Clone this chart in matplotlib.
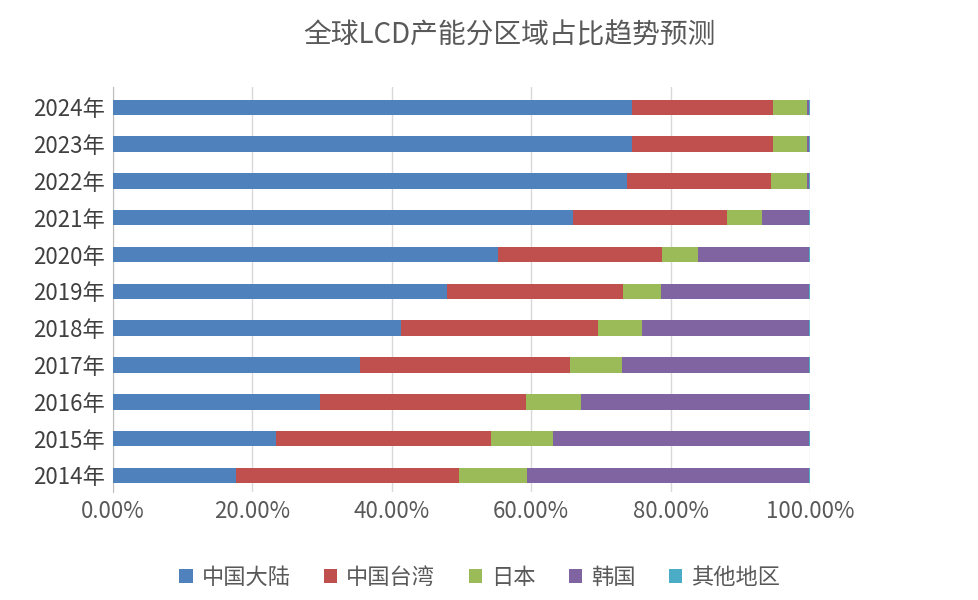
import matplotlib
matplotlib.use("Agg")
import matplotlib.pyplot as plt
import numpy as np

plt.rcParams['font.family'] = ['Noto Sans CJK SC', 'DejaVu Sans']

years = ["2014年", "2015年", "2016年", "2017年", "2018年", "2019年",
         "2020年", "2021年", "2022年", "2023年", "2024年"]
series_names = ["中国大陆", "中国台湾", "日本", "韩国", "其他地区"]
mainland = [17.6, 23.4, 29.7, 35.4, 41.3, 47.9, 55.2, 66.0, 73.7, 74.5, 74.5]
taiwan = [32.0, 30.8, 29.6, 30.2, 28.3, 25.3, 23.6, 22.1, 20.7, 20.2, 20.2]
japan = [9.8, 8.9, 7.8, 7.4, 6.3, 5.4, 5.1, 5.0, 5.2, 4.9, 4.9]
korea = [40.5, 36.8, 32.8, 26.9, 24.0, 21.3, 16.0, 6.8, 0.3, 0.3, 0.3]
other = [0.1, 0.1, 0.1, 0.1, 0.1, 0.1, 0.1, 0.1, 0.1, 0.1, 0.1]
colors = ["#4F81BD", "#C0504D", "#9BBB59", "#8064A2", "#4BACC6"]

fig = plt.figure(figsize=(9.79, 6.0), dpi=100)
ax = fig.add_axes([113/979, 1-492/600, 697/979, 405/600])

y = np.arange(len(years))
left = np.zeros(len(years))
for name, vals, c in zip(series_names, [mainland, taiwan, japan, korea, other], colors):
    ax.barh(y, vals, left=left, height=0.42, color=c, label=name, zorder=3)
    left += np.array(vals)

ax.set_xlim(0, 100)
ax.set_ylim(-0.45, len(years) - 0.45)
ax.set_xticks(np.arange(0, 101, 20))
ax.set_xticklabels([f"{v:.2f}%" for v in np.arange(0, 101, 20)], fontsize=16, color="#595959")
ax.set_yticks(y)
ax.set_yticklabels(years, fontsize=16, color="#404040")
ax.grid(axis="x", color="#D9D9D9", linewidth=1, zorder=0)
for s in ["top", "right", "bottom"]:
    ax.spines[s].set_visible(False)
ax.spines["left"].set_color("#BFBFBF")
ax.tick_params(length=0, pad=6)

fig.text(0.52, 1-35/600, "全球LCD产能分区域占比趋势预测", ha="center", va="center",
         fontsize=20, color="#595959")
fig.legend(loc="center", bbox_to_anchor=(0.49, 1-577/600), ncol=5, frameon=False,
           fontsize=16, handlelength=0.6, handleheight=0.6, columnspacing=1.5,
           handletextpad=0.4, labelcolor="#595959")

fig.savefig("out.png", dpi=100, facecolor="white")
